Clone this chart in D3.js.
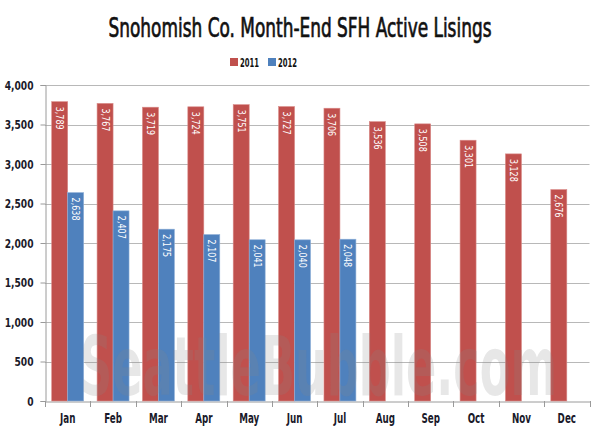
<!DOCTYPE html>
<html><head><meta charset="utf-8">
<script src="https://cdn.jsdelivr.net/npm/d3@7"></script>
<style>
body{margin:0;background:#fff;}
svg{display:block;}
</style></head>
<body><svg id="c" width="600" height="436"></svg>
<script>
const months = ["Jan","Feb","Mar","Apr","May","Jun","Jul","Aug","Sep","Oct","Nov","Dec"];
const series = ["2011","2012"];
const values2011 = [3789,3767,3719,3724,3751,3727,3706,3536,3508,3301,3128,2676];
const values2012 = [2638,2407,2175,2107,2041,2040,2048];
const yTicks = [0,500,1000,1500,2000,2500,3000,3500,4000];
const colors = ["#C0504D","#4F81BD"];
const titleText = "Snohomish Co. Month-End SFH Active Lisings";
const watermark = "SeattleBubble.com";
const condFont = "'DejaVu Sans Condensed','DejaVu Sans',sans-serif";

function condense(sel, factor){
  sel.each(function(){
    const len = this.getComputedTextLength();
    d3.select(this).attr("textLength", len*factor).attr("lengthAdjust","spacingAndGlyphs");
  });
}

const svg = d3.select("#c");
const mLeft = 45, mRight = 589.5, mTop = 85, mBottom = 401;
const x = d3.scaleBand().domain(months).range([mLeft, mRight]).paddingInner(0).paddingOuter(0);
const inner = d3.scaleBand().domain(series).range([0, x.bandwidth()]).paddingInner(0).paddingOuter(0.42);
const y = d3.scaleLinear().domain([0,4000]).range([mBottom, mTop]);

// gridlines
svg.append("g").selectAll("line").data(yTicks.filter(d=>d>0)).join("line")
  .attr("x1", mLeft).attr("x2", mRight)
  .attr("y1", d=>Math.round(y(d))+0.5).attr("y2", d=>Math.round(y(d))+0.5)
  .attr("stroke","#b8b8b8").attr("stroke-width",1);

// y axis
const yAxis = svg.append("g").attr("transform",`translate(${mLeft+0.5},0)`)
  .call(d3.axisLeft(y).tickValues(yTicks).tickSize(5).tickPadding(7).tickFormat(d3.format(",")));
yAxis.selectAll("path,line").attr("stroke","#9a9a9a");
yAxis.selectAll("text").attr("font-size","13px").attr("font-weight","bold").attr("fill","#1a1a2a")
  .attr("font-family",condFont);
condense(yAxis.selectAll("text"), 0.78);

// x axis
const xAxis = svg.append("g").attr("transform",`translate(0,${mBottom+0.5})`)
  .call(d3.axisBottom(x).tickSize(0).tickPadding(12));
xAxis.select("path").attr("stroke","#9a9a9a");
xAxis.selectAll("text").attr("font-size","13.5px").attr("font-weight","bold").attr("fill","#1a1a2a")
  .attr("font-family",condFont);
condense(xAxis.selectAll("text"), 0.72);
svg.append("g").selectAll("line").data(months.concat(["end"])).join("line")
  .attr("x1",(d,i)=>Math.round(mLeft + i*x.step())+0.5).attr("x2",(d,i)=>Math.round(mLeft + i*x.step())+0.5)
  .attr("y1",mBottom).attr("y2",mBottom+6).attr("stroke","#9a9a9a");

// bars
const data = [];
months.forEach((m,i)=>{
  data.push({m, s:"2011", v:values2011[i]});
  if (i < values2012.length) data.push({m, s:"2012", v:values2012[i]});
});
const bars = svg.append("g");
bars.selectAll("rect").data(data).join("rect")
  .attr("x", d=>x(d.m)+inner(d.s))
  .attr("width", inner.bandwidth())
  .attr("y", d=>y(d.v))
  .attr("height", d=>y(0)-y(d.v))
  .attr("fill", d=>colors[series.indexOf(d.s)])
  .attr("stroke", d=>d.s==="2011" ? "#d98a88" : "#8fb0d8").attr("stroke-width",0.6);

// value labels
const vl = bars.selectAll("text").data(data).join("text")
  .attr("transform", d=>`translate(${x(d.m)+inner(d.s)+inner.bandwidth()/2},${y(d.v)+5}) rotate(90)`)
  .attr("dy","0.35em")
  .attr("font-family","'DejaVu Sans',sans-serif")
  .attr("font-size","10px").attr("fill","#fff")
  .text(d=>d3.format(",")(d.v));
condense(vl, 0.8);

// watermark
svg.append("text")
  .attr("x",80).attr("y",395)
  .attr("textLength",477).attr("lengthAdjust","spacingAndGlyphs")
  .attr("font-family",condFont)
  .attr("font-size","82px").attr("font-weight","bold")
  .attr("fill","#888").attr("fill-opacity",0.2)
  .text(watermark);

// title
svg.append("text")
  .attr("x",300).attr("y",37).attr("text-anchor","middle")
  .attr("textLength",383).attr("lengthAdjust","spacingAndGlyphs")
  .attr("font-family",condFont)
  .attr("font-size","27px").attr("font-weight","normal").attr("fill","#111")
  .attr("stroke","#111").attr("stroke-width",0.7)
  .text(titleText);

// legend
const lg = svg.append("g");
const legendX = [230, 268];
series.forEach((s,i)=>{
  lg.append("rect").attr("x",legendX[i]).attr("y",58).attr("width",8).attr("height",8).attr("fill",colors[i]);
  lg.append("text").attr("x",legendX[i]+10).attr("y",66.5)
    .attr("font-family",condFont)
    .attr("textLength",19).attr("lengthAdjust","spacingAndGlyphs")
    .attr("font-size","12.5px").attr("font-weight","bold").attr("fill","#111").text(s);
});
</script></body></html>
